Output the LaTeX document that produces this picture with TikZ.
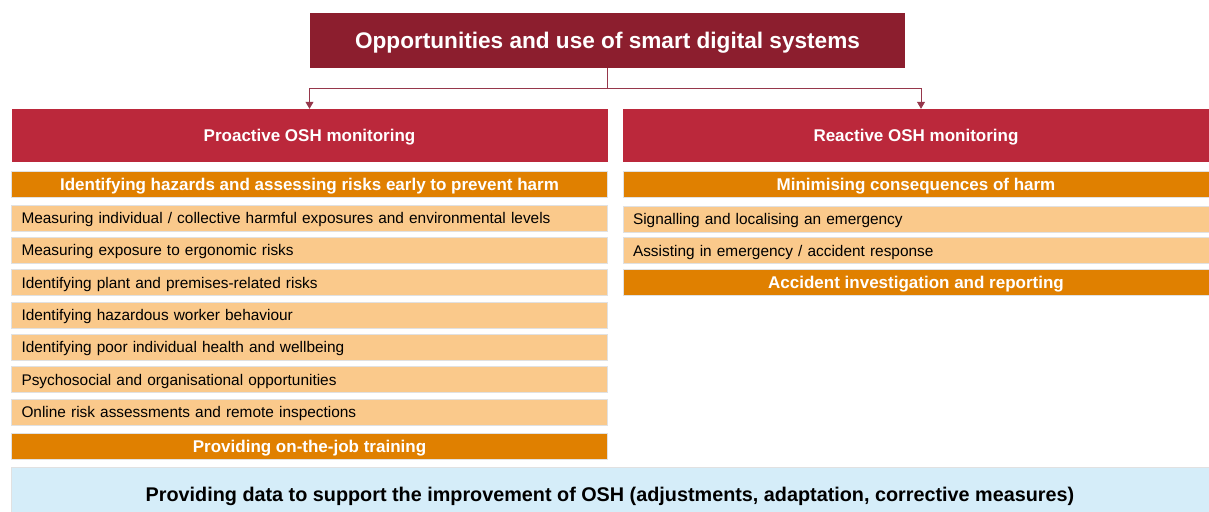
\documentclass[tikz,border=0pt]{standalone}
\usepackage{fontspec}
\setmainfont{Liberation Sans}
\usetikzlibrary{arrows.meta}
\definecolor{topRed}{RGB}{140,30,46}
\definecolor{headRed}{RGB}{187,40,59}
\definecolor{darkOrange}{RGB}{224,128,0}
\definecolor{lightOrange}{RGB}{250,201,139}
\definecolor{paleBlue}{RGB}{213,237,249}
\definecolor{linkRed}{RGB}{150,55,75}
\definecolor{edgeGrey}{RGB}{225,225,225}

\begin{document}
\begin{tikzpicture}[x=1pt,y=-1pt]
\tikzstyle{title}=[rectangle,fill=topRed,text=white,minimum width=595pt,minimum height=55pt,inner sep=0pt,text depth=0pt,font=\fontsize{22.6}{26}\selectfont\bfseries]
\tikzstyle{head}=[rectangle,fill=headRed,text=white,minimum height=53pt,inner sep=0pt,text depth=0pt,font=\fontsize{17}{20}\selectfont\bfseries]
\tikzstyle{band}=[rectangle,fill=darkOrange,draw=edgeGrey,line width=0.6pt,text=white,minimum height=26pt,inner sep=0pt,text depth=0pt,font=\fontsize{17}{20}\selectfont\bfseries]
\tikzstyle{item}=[rectangle,fill=lightOrange,draw=edgeGrey,line width=0.6pt,minimum height=26pt,inner xsep=10pt,inner ysep=0pt,text depth=0pt,align=left,font=\fontsize{15.4}{18}\selectfont]
\tikzstyle{base}=[rectangle,fill=paleBlue,draw=edgeGrey,line width=0.6pt,minimum width=1198pt,minimum height=54pt,inner sep=0pt,text depth=0pt,font=\fontsize{19.8}{23}\selectfont\bfseries]
\tikzstyle{link}=[draw=linkRed,line width=0.8pt,-{Triangle[width=8pt,length=7pt]}]

\useasboundingbox (0,0) rectangle (1209,511);
\clip (0,0) rectangle (1209,511);

%top title.
\node[title] (top) at (607.5,40.5) {Opportunities and use of smart digital systems};

%two columns.
\node[head,minimum width=596pt] (pro) at (309.5,135.5) {Proactive OSH monitoring};
\node[head,minimum width=586pt] (rea) at (916,135.5) {Reactive OSH monitoring};

\draw[linkRed,line width=0.8pt] (top.south) -- ++(0,20) coordinate (split);
\draw[link] (split) -| (pro.north);
\draw[link] (split) -| ([xshift=5pt]rea.north);

%left side.
\node[band,minimum width=596pt] (proBand) at (309.5,184) {Identifying hazards and assessing risks early to prevent harm};
\node[item,text width=576pt] (proA) at (309.5,218) {Measuring individual / collective harmful exposures and environmental levels};
\node[item,text width=576pt] (proB) at (309.5,250.3) {Measuring exposure to ergonomic risks};
\node[item,text width=576pt] (proC) at (309.5,282.6) {Identifying plant and premises-related risks};
\node[item,text width=576pt] (proD) at (309.5,315) {Identifying hazardous worker behaviour};
\node[item,text width=576pt] (proE) at (309.5,347) {Identifying poor individual health and wellbeing};
\node[item,text width=576pt] (proF) at (309.5,379.5) {Psychosocial and organisational opportunities};
\node[item,text width=576pt] (proG) at (309.5,411.8) {Online risk assessments and remote inspections};
\node[band,minimum width=596pt] (proTrain) at (309.5,446) {Providing on-the-job training};

%right side.
\node[band,minimum width=586pt] (reaBand) at (916,184) {Minimising consequences of harm};
\node[item,text width=566pt] (reaA) at (916,219) {Signalling and localising an emergency};
\node[item,text width=566pt] (reaB) at (916,250.5) {Assisting in emergency / accident response};
\node[band,minimum width=586pt] (reaInv) at (916,282.5) {Accident investigation and reporting};

%bottom.
\node[base] (data) at (610,494) {Providing data to support the improvement of OSH (adjustments, adaptation, corrective measures)};

\end{tikzpicture}
\end{document}
